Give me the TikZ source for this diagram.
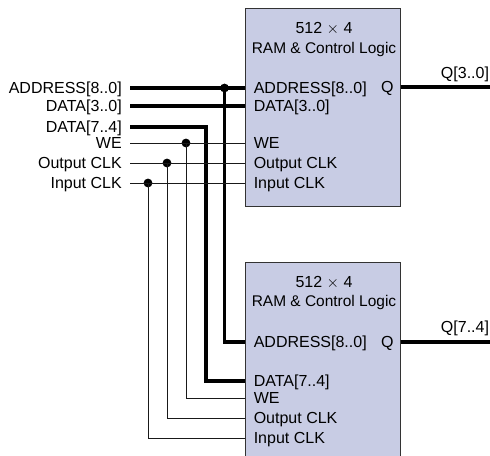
\documentclass[tikz,border=0pt]{standalone}
\usepackage{fontspec}
\setmainfont{Liberation Sans}
\usepackage{tikz}

\begin{document}
\begin{tikzpicture}[x=0.75pt, y=-0.75pt]

% Styles
\tikzset{
  ram/.style={draw=black!80, fill=ramfill, line width=0.8pt, minimum width=116.25pt, inner sep=0pt},
  txt/.style={font=\fontsize{12}{14}\selectfont, text height=9pt, text depth=0.6pt, inner ysep=0pt},
  logic/.style={txt, font=\fontsize{11.6}{14}\selectfont},
  inlabel/.style={txt, anchor=east, inner xsep=6pt},
  port/.style={txt, anchor=west, inner xsep=6.4pt},
  bus/.style={line width=2.3pt, black},
  wire/.style={line width=0.65pt, black!90},
  dot/.style={circle, fill=black, inner sep=0pt, minimum size=6.6pt}
}
\definecolor{ramfill}{RGB}{200,204,228}

\useasboundingbox (0,0) rectangle (490,455);

% Memory blocks
\node[ram, minimum height=149pt] (ramA) at (322.75,107.5) {};
\node[ram, minimum height=148pt] (ramB) at (322.75,360.7) {};

% Titles
\node[txt] (titleA) at (324,28) {512 $\times$ 4};
\node[logic] (logicA) at (324,48) {RAM \& Control Logic};
\node[txt] (titleB) at (324,282) {512 $\times$ 4};
\node[logic] (logicB) at (324,301) {RAM \& Control Logic};

% Inputs on the left
\node[inlabel] (inAddr) at (130,88) {ADDRESS[8..0]};
\node[inlabel] (inLow) at (130,106) {DATA[3..0]};
\node[inlabel] (inHigh) at (130,127) {DATA[7..4]};
\node[inlabel] (inWe) at (130,143) {WE};
\node[inlabel] (inOut) at (130,163) {Output CLK};
\node[inlabel] (inIn) at (130,183) {Input CLK};

% Ports of upper block
\node[port] (addrA) at (245,88) {ADDRESS[8..0]};
\node[port] (dataA) at (245,106) {DATA[3..0]};
\node[port] (weA) at (245,143) {WE};
\node[port] (outA) at (245,163) {Output CLK};
\node[port] (inA) at (245,183) {Input CLK};

% Ports of lower block
\node[port] (addrB) at (245,342) {ADDRESS[8..0]};
\node[port] (dataB) at (245,381) {DATA[7..4]};
\node[port] (weB) at (245,398) {WE};
\node[port] (outB) at (245,418) {Output CLK};
\node[port] (inB) at (245,438) {Input CLK};

% Outputs
\node[txt, anchor=east, inner xsep=5pt] (qA) at (400.5,87) {Q};
\node[txt, anchor=east, inner xsep=5pt] (qB) at (400.5,342) {Q};
\coordinate (endA) at (490,87);
\coordinate (endB) at (490,342);
\node[txt] (nameA) at (465,73) {Q[3..0]};
\node[txt] (nameB) at (465,327) {Q[7..4]};
\draw[bus] (qA.east) -- (endA);
\draw[bus] (qB.east) -- (endB);

% Junctions
\node[dot] (tapAddr) at (224.5,88) {};
\node[dot] (tapWe) at (186,143) {};
\node[dot] (tapOut) at (167,163) {};
\node[dot] (tapIn) at (148,183) {};
\coordinate (bendHigh) at (206,250);

% Buses
\draw[bus] (inAddr.east) -- (addrA.west);
\draw[bus] (inLow.east) -- (dataA.west);
\draw[bus] (tapAddr.center) |- (addrB.west);
\draw[bus] (inHigh.east) -| (bendHigh) |- (dataB.west);

% Single wires
\draw[wire] (inWe.east) -- (weA.west);
\draw[wire] (inOut.east) -- (outA.west);
\draw[wire] (inIn.east) -- (inA.west);
\draw[wire] (tapWe.center) |- (weB.west);
\draw[wire] (tapOut.center) |- (outB.west);
\draw[wire] (tapIn.center) |- (inB.west);

\end{tikzpicture}
\end{document}
